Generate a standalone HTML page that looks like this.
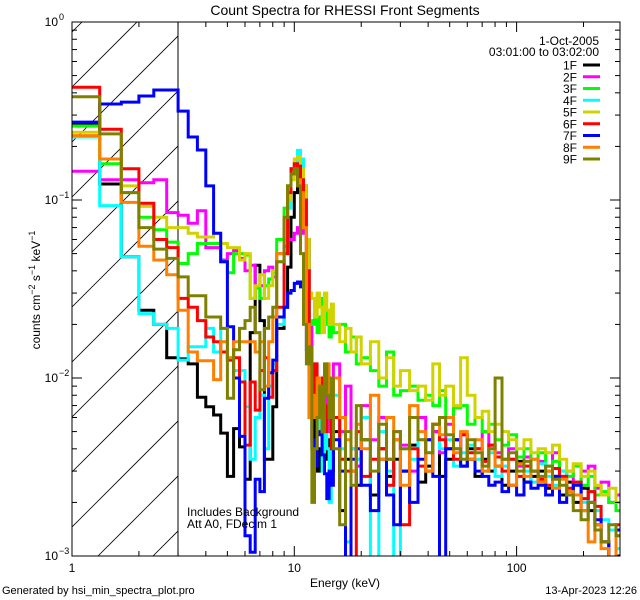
<!DOCTYPE html>
<html><head><meta charset="utf-8">
<style>
html,body{margin:0;padding:0;background:#fff;width:640px;height:600px;overflow:hidden;}
svg{display:block;font-family:"Liberation Sans","DejaVu Sans",sans-serif;}
</style></head>
<body>
<svg id="chart" width="640" height="600" viewBox="0 0 640 600" xmlns="http://www.w3.org/2000/svg">
<rect width="640" height="600" fill="#fff"/>
<defs><clipPath id="plotclip"><rect x="72" y="22" width="548" height="534"/></clipPath>
<clipPath id="hatchclip"><rect x="72" y="22" width="106" height="534"/></clipPath></defs>
<text x="345" y="15" font-size="14" text-anchor="middle">Count Spectra for RHESSI Front Segments</text>
<g id="hatch" clip-path="url(#hatchclip)"></g>
<line x1="178" y1="22" x2="178" y2="556" stroke="#000" stroke-width="1"/>
<g id="series" clip-path="url(#plotclip)"></g>
<rect x="72" y="22" width="548" height="534" fill="none" stroke="#000" stroke-width="1"/>
<g id="axes"></g>
<text transform="translate(40,290) rotate(-90)" font-size="12" text-anchor="middle">counts cm<tspan dy="-5" font-size="9">−2</tspan><tspan dy="5"> s</tspan><tspan dy="-5" font-size="9">−1</tspan><tspan dy="5"> keV</tspan><tspan dy="-5" font-size="9">−1</tspan></text>
<text x="345" y="587" font-size="12" text-anchor="middle">Energy (keV)</text>
<text x="2" y="594" font-size="11">Generated by hsi_min_spectra_plot.pro</text>
<text x="637" y="594" font-size="11" text-anchor="end">13-Apr-2023 12:26</text>
<text x="187" y="516" font-size="12">Includes Background</text>
<text x="187" y="528" font-size="12">Att A0, FDecim 1</text>
<text x="599" y="45" font-size="12" text-anchor="end">1-Oct-2005</text>
<text x="599" y="56" font-size="12" text-anchor="end">03:01:00 to 03:02:00</text>
<g id="legend"></g>
</svg>
<script>
const energyEdges = [1,1.333,1.667,2,2.333,2.667,3,3.333,3.667,4,4.333,4.667,5,5.333,5.667,6,6.333,6.667,7,7.333,7.667,8,8.333,8.667,9,9.333,9.667,10,10.333,10.667,11,11.333,11.667,12,12.333,12.667,13,13.333,13.667,14,14.333,14.667,15,
16,17,18,19,20,22,24,26,28,30,33,36,39,42,45,48,52,56,60,65,70,75,80,86,92,100,108,116,125,135,145,156,168,180,195,210,225,240,260,280,300];
const seriesNames = ["1F","2F","3F","4F","5F","6F","7F","8F","9F"];
const seriesColors = ["#000000","#ff00ff","#00ff00","#00ffff","#d2d200","#ff0000","#0000ff","#ff8000","#808000"];
const xTickValues = [1,10,100];
const xTickLabels = ["1","10","100"];
const yTickExps = [0,-1,-2,-3];

const s1F = [.27,.123,.048,.024,.02,.013,.0128,.012,.0078,.0069,.0062,.0049,.0028,.0052,.0041,.0027,.018,.043,.021,.0035,.0035,.0069,.019,.019,.025,.042,.08,.11,.13,.14,.12,.06,.0144,.004,.006,.003,.004,.005,.0035,.004,.0045,.003,
.005,.0018,.0035,.003,.0025,.0045,.0022,.004,.0028,.0035,.003,.0042,.0026,.0032,.005,.0028,.0035,.0045,.0032,.004,.0028,.0035,.003,.0032,.0025,.003,.0034,.0026,.0028,.003,.0024,.0028,.0022,.0026,.002,.0024,.0018,.0015,.0012,.0009,.001];
const s2F = [.145,.13,.13,.125,.13,.085,.082,.074,.087,.054,.054,.046,.05,.052,.047,.04,.043,.032,.033,.04,.042,.037,.05,.05,.055,.06,.06,.065,.07,.068,.065,.052,.02,.01,.007,.009,.006,.008,.01,.007,.005,.008,
.012,.005,.009,.004,.0032,.007,.0045,.006,.0035,.005,.0042,.003,.006,.0045,.005,.0038,.0055,.004,.0048,.0035,.004,.005,.0042,.0038,.0035,.004,.0032,.0036,.003,.0034,.003,.0038,.0028,.003,.0026,.003,.0032,.0024,.0026,.002,.0022];
const s3F = [.26,.16,.11,.08,.068,.058,.044,.05,.057,.057,.057,.045,.039,.05,.05,.049,.028,.032,.028,.033,.036,.039,.06,.06,.09,.12,.15,.155,.15,.13,.07,.03,.021,.02,.025,.018,.022,.028,.02,.024,.017,.02,
.018,.02,.014,.017,.012,.013,.011,.009,.014,.008,.0085,.009,.0075,.008,.007,.0085,.006,.0068,.007,.0055,.006,.005,.0055,.0045,.0042,.0048,.0036,.004,.0035,.0038,.0032,.0034,.003,.0028,.0032,.0025,.0028,.0022,.0023,.002,.0018];
const s4F = [.226,.093,.048,.023,.02,.019,.0126,.015,.015,.019,.014,.019,.013,.011,.011,.0069,.0035,.006,.008,.004,.009,.012,.02,.02,.05,.09,.14,.16,.19,.17,.1,.03,.01,.012,.008,.006,.005,.003,.007,.004,.002,.005,
.008,.004,.0012,.004,.0035,.006,.0009,.005,.003,.0008,.004,.0035,.0045,.003,.0055,.004,.0045,.0032,.0038,.0042,.0035,.003,.0038,.0028,.0032,.0035,.0028,.003,.0026,.0033,.0028,.0025,.003,.0022,.0026,.002,.0023,.0018,.0016,.0014,.0011];
const s5F = [.24,.17,.12,.092,.08,.07,.07,.065,.062,.062,.065,.057,.054,.054,.046,.05,.028,.033,.038,.028,.033,.04,.045,.045,.06,.1,.13,.17,.175,.15,.12,.06,.03,.028,.022,.03,.025,.018,.03,.024,.02,.026,
.02,.016,.019,.014,.017,.012,.016,.01,.013,.009,.011,.0085,.009,.0075,.012,.008,.009,.007,.013,.008,.006,.0065,.005,.0055,.005,.0045,.004,.0045,.0038,.004,.0038,.0042,.0035,.003,.0033,.0028,.003,.0025,.0022,.0024,.002];
const s6F = [.43,.25,.15,.096,.06,.054,.028,.025,.021,.017,.016,.014,.0126,.013,.0095,.0042,.0095,.0066,.011,.013,.0078,.011,.025,.025,.05,.11,.15,.16,.155,.13,.1,.04,.015,.008,.012,.006,.009,.01,.005,.007,.009,.004,
.006,.0035,.003,.0009,.005,.0028,.0035,.004,.0025,.0045,.0015,.004,.0032,.003,.0055,.0045,.004,.0035,.0048,.0038,.004,.0034,.0042,.0036,.003,.0035,.0028,.0032,.003,.0027,.0025,.0031,.0028,.0024,.0026,.0021,.0023,.0019,.0012,.0009,.0015];
const s7F = [.274,.346,.355,.384,.415,.415,.316,.226,.191,.12,.065,.045,.0194,.01,.0047,.0013,.00105,.0027,.0023,.0077,.0107,.0126,.022,.022,.025,.03,.031,.034,.0346,.0325,.03,.0144,.006,.0045,.0032,.005,.0048,.0037,.0029,.0021,.003,.0025,
.0045,.003,.0009,.0035,.004,.0025,.0018,.0035,.0022,.0015,.003,.002,.0035,.0045,.0028,.0009,.004,.0045,.0032,.0035,.003,.0028,.0025,.0026,.0023,.0025,.0022,.0026,.0024,.0025,.0022,.0028,.002,.0022,.0025,.0018,.002,.0016,.0012,.0009,.0014];
const s8F = [.23,.17,.097,.055,.046,.038,.024,.014,.0125,.0125,.0098,.016,.013,.016,.016,.016,.016,.014,.016,.009,.016,.022,.05,.05,.08,.12,.14,.14,.13,.11,.07,.02,.006,.008,.006,.01,.007,.005,.009,.012,.007,.006,
.01,.006,.0045,.003,.0055,.004,.008,.0035,.006,.0045,.0025,.007,.005,.003,.0055,.0048,.006,.0038,.005,.0035,.0045,.003,.004,.0032,.0035,.0025,.0033,.0028,.0035,.0026,.003,.0024,.0027,.0023,.0022,.0018,.0012,.0015,.0011,.0009,.0013];
const s9F = [.38,.235,.11,.07,.053,.047,.037,.029,.029,.022,.022,.019,.0077,.0144,.019,.021,.025,.018,.0086,.019,.022,.025,.045,.045,.08,.12,.14,.15,.12,.05,.02,.012,.015,.002,.004,.006,.009,.005,.012,.008,.006,.01,
.004,.0015,.005,.0025,.007,.0045,.003,.0055,.0035,.005,.004,.006,.0045,.0038,.0055,.006,.0048,.004,.0035,.0045,.0038,.0032,.004,.01,.0035,.0038,.003,.0034,.003,.0028,.0032,.0027,.0025,.0022,.0018,.0016,.002,.0014,.0012,.0015,.0013];
const seriesValues = [s1F,s2F,s3F,s4F,s5F,s6F,s7F,s8F,s9F];

const NS = "http://www.w3.org/2000/svg";
const PL = 72, PR = 620, PT = 22, PB = 556;
const XDEC = 222.3, YDEC = (PB - PT) / 3;
function xs(e){ return PL + XDEC * Math.log10(e); }
function ys(v){ const c = Math.max(v, 1e-4); return PT - YDEC * Math.log10(c); }
function mk(tag, attrs, parent){ const el = document.createElementNS(NS, tag); for (const k in attrs) el.setAttribute(k, attrs[k]); parent.appendChild(el); return el; }

const hatch = document.getElementById('hatch');
for (let k = -3; k < 14; k++) {
  const c = 527 - 55 * k;
  const ln = mk('line', {x1: 72, y1: c, x2: 72 + 700, y2: c - 700, stroke: '#000', 'stroke-width': 0.8}, hatch);
  
  
}

const sg = document.getElementById('series');
seriesValues.forEach((vals, si) => {
  const n = Math.min(vals.length, energyEdges.length - 1);
  let d = '';
  for (let i = 0; i < n; i++) {
    const y = ys(vals[i]).toFixed(1);
    if (i === 0) d += 'M' + xs(energyEdges[0]).toFixed(1) + ' ' + y;
    else d += ' V' + y;
    d += ' H' + xs(energyEdges[i + 1]).toFixed(1);
  }
  const p = mk('path', {d: d, fill: 'none', stroke: seriesColors[si], 'stroke-width': 3, 'stroke-linejoin': 'miter'}, sg);
  
  
});

const ax = document.getElementById('axes');
function tick(x1, y1, x2, y2, name) {
  const t = mk('line', {x1, y1, x2, y2, stroke: '#000', 'stroke-width': 1}, ax);
  
  
}
for (let dec = 1; dec <= 100; dec *= 10) {
  for (let m = 1; m <= 9; m++) {
    const e = dec * m;
    if (e > 300) break;
    const x = xs(e);
    if (x > PR + 0.5) break;
    const len = m === 1 ? 10 : 5;
    tick(x, PB, x, PB - len, 'x-tick');
    tick(x, PT, x, PT + len, 'x-tick-top');
  }
}
xTickValues.forEach((e, i) => {
  const t = mk('text', {x: xs(e), y: 572, 'font-size': 12, 'text-anchor': 'middle'}, ax);
  t.textContent = xTickLabels[i];
  
  
});
for (let ex = -3; ex < 0; ex++) {
  for (let m = 1; m <= 9; m++) {
    const v = m * Math.pow(10, ex);
    const y = ys(v);
    const len = m === 1 ? 10 : 5;
    tick(PL, y, PL + len, y, 'y-tick');
    tick(PR, y, PR - len, y, 'y-tick-right');
  }
}
tick(PL, PT, PL + 10, PT, 'y-tick');
tick(PR, PT, PR - 10, PT, 'y-tick-right');
yTickExps.forEach(ex => {
  const y = ys(Math.pow(10, ex));
  const t = mk('text', {x: 58, y: y + 4, 'font-size': 12, 'text-anchor': 'end'}, ax);
  t.textContent = '10';
  
  
  const s = mk('text', {x: 59, y: y - 2, 'font-size': 9, 'text-anchor': 'start'}, ax);
  s.textContent = ex === 0 ? '0' : '−' + (-ex);
  
  
});

const lg = document.getElementById('legend');
seriesNames.forEach((nm, i) => {
  const y = 65 + i * 11.75;
  const t = mk('text', {x: 577, y: y + 4.5, 'font-size': 12, 'text-anchor': 'end'}, lg);
  t.textContent = nm;
  
  
  const l = mk('line', {x1: 583, y1: y, x2: 600, y2: y, stroke: seriesColors[i], 'stroke-width': 3}, lg);
  
  
});
</script>
</body></html>
